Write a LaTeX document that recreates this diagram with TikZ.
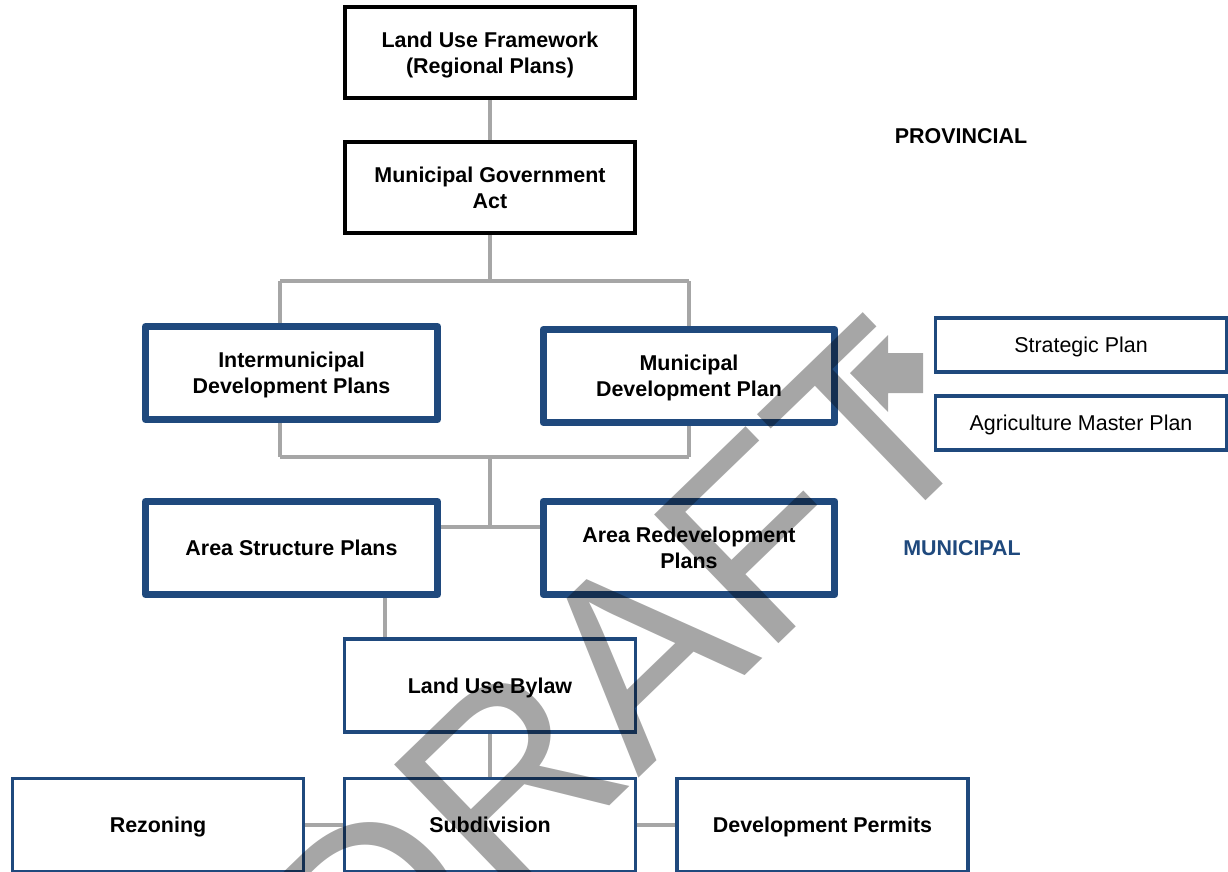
\documentclass[tikz,border=0pt]{standalone}
\usepackage{fontspec}
\setmainfont{Liberation Sans}
\usetikzlibrary{backgrounds}
\definecolor{planblue}{RGB}{31,73,125}
\definecolor{linkgray}{RGB}{166,166,166}
\tikzset{block/.style = {draw=black, fill=white, line width=2.3pt, rectangle, minimum height=1.82cm, minimum width=5.82cm, align=center, text depth=0pt, font=\fontsize{12.2}{14.8}\selectfont\bfseries},
         bblock/.style={block, draw=planblue, line width=4pt, line join=round, minimum height=1.86cm, minimum width=5.84cm},
         tblock/.style={block, draw=planblue, line width=2pt, minimum height=1.86cm},
         sblock/.style={tblock, minimum height=1.08cm, font=\fontsize{12.2}{14.8}\selectfont},
         tag/.style= {font=\fontsize{12.2}{14.8}\selectfont\bfseries},
         link/.style={draw=linkgray, line width=2.3pt}}
\begin{document}
\begin{tikzpicture}[x=0.02cm,y=-0.02cm]
        \useasboundingbox(0,0)rectangle(1228,872);
        \node[block](luf)at(490,52.5){Land Use Framework\\(Regional Plans)};
        \node[block](mga)at(490,187.5){Municipal Government\\Act};
        \node[tag](prov)at(961,136){PROVINCIAL};

        \node[bblock](idp)at(291.5,373){Intermunicipal\\Development Plans};
        \node[bblock](mdp)at(689,376){Municipal\\Development Plan};
        \node[sblock](sp)at(1081,345){Strategic Plan};
        \node[sblock](amp)at(1081,423){Agriculture Master Plan};
        \fill[linkgray](923,353)--(888,353)--(888,335)--(850,373)--(888,412)--(888,393)--(923,393)--cycle;

        \node[bblock](asp)at(291.5,548){Area Structure Plans};
        \node[bblock](arp)at(689,548){Area Redevelopment\\Plans};
        \node[tag,text=planblue](mun)at(962,548){MUNICIPAL};

        \node[tblock](lub)at(490,685.5){Land Use Bylaw};
        \node[tblock](rez)at(158,825){Rezoning};
        \node[tblock](sub)at(490,825){Subdivision};
        \node[tblock](dp)at(822.5,825){Development Permits};

        \begin{scope}[on background layer]
        \coordinate(t1)at(280,281);
        \coordinate(t2)at(689,281);
        \coordinate(b1)at(280,457);
        \coordinate(b2)at(689,457);
        \coordinate(m1)at(490,527);
        \coordinate(l1)at(385,548);
        \draw[link](luf)--(mga);
        \draw[link](mga)--(mga|-t1);
        \draw[link](t1)--(t2);
        \draw[link](t1)--(b1);
        \draw[link](t2)--(b2);
        \draw[link](b1)--(b2);
        \draw[link](m1|-b1)--(m1);
        \draw[link](asp.east|-m1)--(arp.west|-m1);
        \draw[link](l1)--(l1|-lub.north);
        \draw[link](lub)--(sub);
        \draw[link](rez)--(dp);
        \end{scope}

        \node[rotate=44,text=black,text opacity=0.35,inner sep=0pt,font=\fontsize{148}{148}\selectfont](wm)at(618,674){DRAFT};
    \end{tikzpicture}
\end{document}
